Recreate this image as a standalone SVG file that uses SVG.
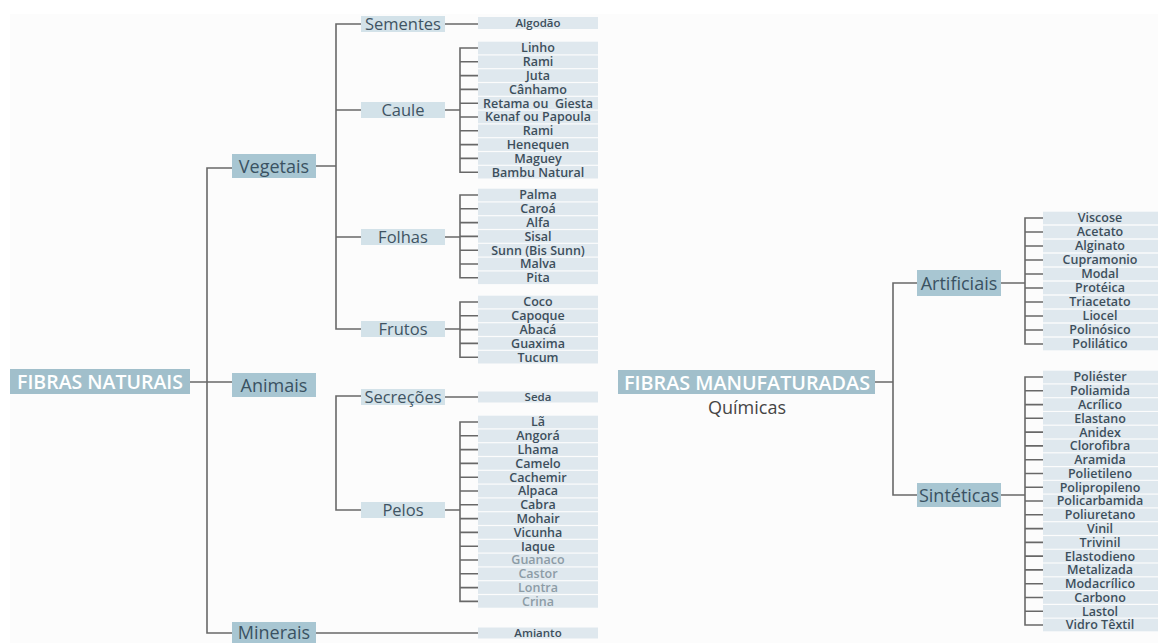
<svg xmlns="http://www.w3.org/2000/svg" width="1158" height="643" viewBox="0 0 1158 643">
<style>
text{font-family:"Open Sans","Liberation Sans",sans-serif;text-anchor:middle}
.root rect{fill:#a1bfcb}
.root text{fill:#ffffff;font-size:20px;font-weight:600}
.l1 rect{fill:#a8c6d2}
.l1 text{fill:#3a5262;font-size:18px}
.l2 rect{fill:#d3e2e9}
.l2 text{fill:#3f5463;font-size:16.5px}
.it rect{fill:#dfe8ee}
.it text{fill:#3d4f5c;font-size:12.5px;font-weight:600}
.it.f text{fill:#8d9ca6}
.sm text{font-size:11.5px}
.cn path{fill:none;stroke:#686868;stroke-width:1.6}
</style>
<rect x="0" y="0" width="1158" height="643" fill="#ffffff"/>
<rect x="10" y="14" width="1148" height="629" fill="#fcfcfc"/>
<g class="cn" id="connectors">
<path d="M190,382H232M232,168H207V633H232"/>
<path d="M316,166H336M361,24H336V329H361M336,110H361M336,237H361"/>
<path d="M445,24H478"/>
<path d="M445,110H460M478,48H460V172.2H478M460,61.8H478M460,75.6H478M460,89.4H478M460,103.2H478M460,117H478M460,130.8H478M460,144.6H478M460,158.4H478"/>
<path d="M445,237H460M478,195H460V277.8H478M460,208.8H478M460,222.6H478M460,236.4H478M460,250.2H478M460,264H478"/>
<path d="M445,329H460M478,302H460V357.2H478M460,315.8H478M460,329.6H478M460,343.4H478"/>
<path d="M361,396H336V510H361"/>
<path d="M445,397H478"/>
<path d="M445,510H460M478,422H460V601.4H478M460,435.8H478M460,449.6H478M460,463.4H478M460,477.2H478M460,491H478M460,504.8H478M460,518.6H478M460,532.4H478M460,546.2H478M460,560H478M460,573.8H478M460,587.6H478"/>
<path d="M316,633H478"/>
<path d="M875,382H893M917,283H893V495H917"/>
<path d="M1001,283H1025M1043,218H1025V344H1043M1025,232H1043M1025,246H1043M1025,260H1043M1025,274H1043M1025,288H1043M1025,302H1043M1025,316H1043M1025,330H1043"/>
<path d="M1001,495H1025M1043,377H1025V625H1043M1025,390.8H1043M1025,404.6H1043M1025,418.3H1043M1025,432.1H1043M1025,445.9H1043M1025,459.7H1043M1025,473.5H1043M1025,487.2H1043M1025,501H1043M1025,514.8H1043M1025,528.6H1043M1025,542.4H1043M1025,556.1H1043M1025,569.9H1043M1025,583.7H1043M1025,597.5H1043M1025,611.3H1043"/>
</g>
<g id="fibras-naturais" class="root"><rect x="10" y="369" width="180" height="25"/><text x="100" y="389" textLength="166" lengthAdjust="spacingAndGlyphs">FIBRAS NATURAIS</text></g>
<g id="vegetais" class="l1"><rect x="232" y="154" width="84" height="24"/><text x="274" y="172.5">Vegetais</text></g>
<g id="animais" class="l1"><rect x="232" y="373" width="84" height="24"/><text x="274" y="391.5">Animais</text></g>
<g id="minerais" class="l1"><rect x="232" y="622" width="84" height="21"/><text x="274" y="639">Minerais</text></g>
<g id="sementes" class="l2"><rect x="361" y="16" width="84" height="16"/><text x="403" y="30">Sementes</text></g>
<g id="caule" class="l2"><rect x="361" y="102" width="84" height="16"/><text x="403" y="116">Caule</text></g>
<g id="folhas" class="l2"><rect x="361" y="229" width="84" height="16"/><text x="403" y="243">Folhas</text></g>
<g id="frutos" class="l2"><rect x="361" y="321" width="84" height="16"/><text x="403" y="335">Frutos</text></g>
<g id="secrecoes" class="l2"><rect x="361" y="389" width="84" height="16"/><text x="403" y="403">Secreções</text></g>
<g id="pelos" class="l2"><rect x="361" y="502" width="84" height="16"/><text x="403" y="516">Pelos</text></g>
<g id="algodao" class="it sm"><rect x="478" y="17" width="120" height="12"/><text x="538" y="27">Algodão</text></g>
<g id="linho" class="it"><rect x="478" y="41.7" width="120" height="12.6"/><text x="538" y="52.4">Linho</text></g>
<g id="rami1" class="it"><rect x="478" y="55.5" width="120" height="12.6"/><text x="538" y="66.2">Rami</text></g>
<g id="juta" class="it"><rect x="478" y="69.3" width="120" height="12.6"/><text x="538" y="80">Juta</text></g>
<g id="canhamo" class="it"><rect x="478" y="83.1" width="120" height="12.6"/><text x="538" y="93.8">Cânhamo</text></g>
<g id="retama" class="it"><rect x="478" y="96.9" width="120" height="12.6"/><text x="538" y="107.6" xml:space="preserve">Retama ou  Giesta</text></g>
<g id="kenaf" class="it"><rect x="478" y="110.7" width="120" height="12.6"/><text x="538" y="121.4">Kenaf ou Papoula</text></g>
<g id="rami2" class="it"><rect x="478" y="124.5" width="120" height="12.6"/><text x="538" y="135.2">Rami</text></g>
<g id="henequen" class="it"><rect x="478" y="138.3" width="120" height="12.6"/><text x="538" y="149">Henequen</text></g>
<g id="maguey" class="it"><rect x="478" y="152.1" width="120" height="12.6"/><text x="538" y="162.8">Maguey</text></g>
<g id="bambu" class="it"><rect x="478" y="165.9" width="120" height="12.6"/><text x="538" y="176.6">Bambu Natural</text></g>
<g id="palma" class="it"><rect x="478" y="188.7" width="120" height="12.6"/><text x="538" y="199.4">Palma</text></g>
<g id="caroa" class="it"><rect x="478" y="202.5" width="120" height="12.6"/><text x="538" y="213.2">Caroá</text></g>
<g id="alfa" class="it"><rect x="478" y="216.3" width="120" height="12.6"/><text x="538" y="227">Alfa</text></g>
<g id="sisal" class="it"><rect x="478" y="230.1" width="120" height="12.6"/><text x="538" y="240.8">Sisal</text></g>
<g id="sunn" class="it"><rect x="478" y="243.9" width="120" height="12.6"/><text x="538" y="254.6">Sunn (Bis Sunn)</text></g>
<g id="malva" class="it"><rect x="478" y="257.7" width="120" height="12.6"/><text x="538" y="268.4">Malva</text></g>
<g id="pita" class="it"><rect x="478" y="271.5" width="120" height="12.6"/><text x="538" y="282.2">Pita</text></g>
<g id="coco" class="it"><rect x="478" y="295.7" width="120" height="12.6"/><text x="538" y="306.4">Coco</text></g>
<g id="capoque" class="it"><rect x="478" y="309.5" width="120" height="12.6"/><text x="538" y="320.2">Capoque</text></g>
<g id="abaca" class="it"><rect x="478" y="323.3" width="120" height="12.6"/><text x="538" y="334">Abacá</text></g>
<g id="guaxima" class="it"><rect x="478" y="337.1" width="120" height="12.6"/><text x="538" y="347.8">Guaxima</text></g>
<g id="tucum" class="it"><rect x="478" y="350.9" width="120" height="12.6"/><text x="538" y="361.6">Tucum</text></g>
<g id="seda" class="it sm"><rect x="478" y="391.5" width="120" height="11"/><text x="538" y="401">Seda</text></g>
<g id="la" class="it"><rect x="478" y="415.7" width="120" height="12.6"/><text x="538" y="426.4">Lã</text></g>
<g id="angora" class="it"><rect x="478" y="429.5" width="120" height="12.6"/><text x="538" y="440.2">Angorá</text></g>
<g id="lhama" class="it"><rect x="478" y="443.3" width="120" height="12.6"/><text x="538" y="454">Lhama</text></g>
<g id="camelo" class="it"><rect x="478" y="457.1" width="120" height="12.6"/><text x="538" y="467.8">Camelo</text></g>
<g id="cachemir" class="it"><rect x="478" y="470.9" width="120" height="12.6"/><text x="538" y="481.6">Cachemir</text></g>
<g id="alpaca" class="it"><rect x="478" y="484.7" width="120" height="12.6"/><text x="538" y="495.4">Alpaca</text></g>
<g id="cabra" class="it"><rect x="478" y="498.5" width="120" height="12.6"/><text x="538" y="509.2">Cabra</text></g>
<g id="mohair" class="it"><rect x="478" y="512.3" width="120" height="12.6"/><text x="538" y="523">Mohair</text></g>
<g id="vicunha" class="it"><rect x="478" y="526.1" width="120" height="12.6"/><text x="538" y="536.8">Vicunha</text></g>
<g id="iaque" class="it"><rect x="478" y="539.9" width="120" height="12.6"/><text x="538" y="550.6">Iaque</text></g>
<g id="guanaco" class="it f"><rect x="478" y="553.7" width="120" height="12.6"/><text x="538" y="564.4">Guanaco</text></g>
<g id="castor" class="it f"><rect x="478" y="567.5" width="120" height="12.6"/><text x="538" y="578.2">Castor</text></g>
<g id="lontra" class="it f"><rect x="478" y="581.3" width="120" height="12.6"/><text x="538" y="592">Lontra</text></g>
<g id="crina" class="it f"><rect x="478" y="595.1" width="120" height="12.6"/><text x="538" y="605.8">Crina</text></g>
<g id="amianto" class="it sm"><rect x="478" y="627.5" width="120" height="11"/><text x="538" y="637">Amianto</text></g>
<g id="fibras-manufaturadas" class="root"><rect x="618" y="370" width="257" height="24"/><text x="747" y="389.5" textLength="246" lengthAdjust="spacingAndGlyphs">FIBRAS MANUFATURADAS</text><text x="747" y="414" style="fill:#454545;font-size:18px;font-weight:400">Químicas</text></g>
<g id="artificiais" class="l1"><rect x="917" y="270" width="84" height="26"/><text x="959" y="289.5">Artificiais</text></g>
<g id="sinteticas" class="l1"><rect x="917" y="483" width="84" height="24"/><text x="959" y="501.5">Sintéticas</text></g>
<g id="viscose" class="it"><rect x="1043" y="211.7" width="115" height="12.6"/><text x="1100" y="222.4">Viscose</text></g>
<g id="acetato" class="it"><rect x="1043" y="225.7" width="115" height="12.6"/><text x="1100" y="236.4">Acetato</text></g>
<g id="alginato" class="it"><rect x="1043" y="239.7" width="115" height="12.6"/><text x="1100" y="250.4">Alginato</text></g>
<g id="cupramonio" class="it"><rect x="1043" y="253.7" width="115" height="12.6"/><text x="1100" y="264.4">Cupramonio</text></g>
<g id="modal" class="it"><rect x="1043" y="267.7" width="115" height="12.6"/><text x="1100" y="278.4">Modal</text></g>
<g id="proteica" class="it"><rect x="1043" y="281.7" width="115" height="12.6"/><text x="1100" y="292.4">Protéica</text></g>
<g id="triacetato" class="it"><rect x="1043" y="295.7" width="115" height="12.6"/><text x="1100" y="306.4">Triacetato</text></g>
<g id="liocel" class="it"><rect x="1043" y="309.7" width="115" height="12.6"/><text x="1100" y="320.4">Liocel</text></g>
<g id="polinosico" class="it"><rect x="1043" y="323.7" width="115" height="12.6"/><text x="1100" y="334.4">Polinósico</text></g>
<g id="polilatico" class="it"><rect x="1043" y="337.7" width="115" height="12.6"/><text x="1100" y="348.4">Polilático</text></g>
<g id="poliester" class="it"><rect x="1043" y="370.7" width="115" height="12.6"/><text x="1100" y="381.4">Poliéster</text></g>
<g id="poliamida" class="it"><rect x="1043" y="384.5" width="115" height="12.6"/><text x="1100" y="395.2">Poliamida</text></g>
<g id="acrilico" class="it"><rect x="1043" y="398.3" width="115" height="12.6"/><text x="1100" y="409">Acrílico</text></g>
<g id="elastano" class="it"><rect x="1043" y="412" width="115" height="12.6"/><text x="1100" y="422.7">Elastano</text></g>
<g id="anidex" class="it"><rect x="1043" y="425.8" width="115" height="12.6"/><text x="1100" y="436.5">Anidex</text></g>
<g id="clorofibra" class="it"><rect x="1043" y="439.6" width="115" height="12.6"/><text x="1100" y="450.3">Clorofibra</text></g>
<g id="aramida" class="it"><rect x="1043" y="453.4" width="115" height="12.6"/><text x="1100" y="464.1">Aramida</text></g>
<g id="polietileno" class="it"><rect x="1043" y="467.2" width="115" height="12.6"/><text x="1100" y="477.9">Polietileno</text></g>
<g id="polipropileno" class="it"><rect x="1043" y="480.9" width="115" height="12.6"/><text x="1100" y="491.6">Polipropileno</text></g>
<g id="policarbamida" class="it"><rect x="1043" y="494.7" width="115" height="12.6"/><text x="1100" y="505.4">Policarbamida</text></g>
<g id="poliuretano" class="it"><rect x="1043" y="508.5" width="115" height="12.6"/><text x="1100" y="519.2">Poliuretano</text></g>
<g id="vinil" class="it"><rect x="1043" y="522.3" width="115" height="12.6"/><text x="1100" y="533">Vinil</text></g>
<g id="trivinil" class="it"><rect x="1043" y="536.1" width="115" height="12.6"/><text x="1100" y="546.8">Trivinil</text></g>
<g id="elastodieno" class="it"><rect x="1043" y="549.8" width="115" height="12.6"/><text x="1100" y="560.5">Elastodieno</text></g>
<g id="metalizada" class="it"><rect x="1043" y="563.6" width="115" height="12.6"/><text x="1100" y="574.3">Metalizada</text></g>
<g id="modacrilico" class="it"><rect x="1043" y="577.4" width="115" height="12.6"/><text x="1100" y="588.1">Modacrílico</text></g>
<g id="carbono" class="it"><rect x="1043" y="591.2" width="115" height="12.6"/><text x="1100" y="601.9">Carbono</text></g>
<g id="lastol" class="it"><rect x="1043" y="605" width="115" height="12.6"/><text x="1100" y="615.7">Lastol</text></g>
<g id="vidro-textil" class="it"><rect x="1043" y="618.7" width="115" height="12.6"/><text x="1100" y="629.4">Vidro Têxtil</text></g>
</svg>
